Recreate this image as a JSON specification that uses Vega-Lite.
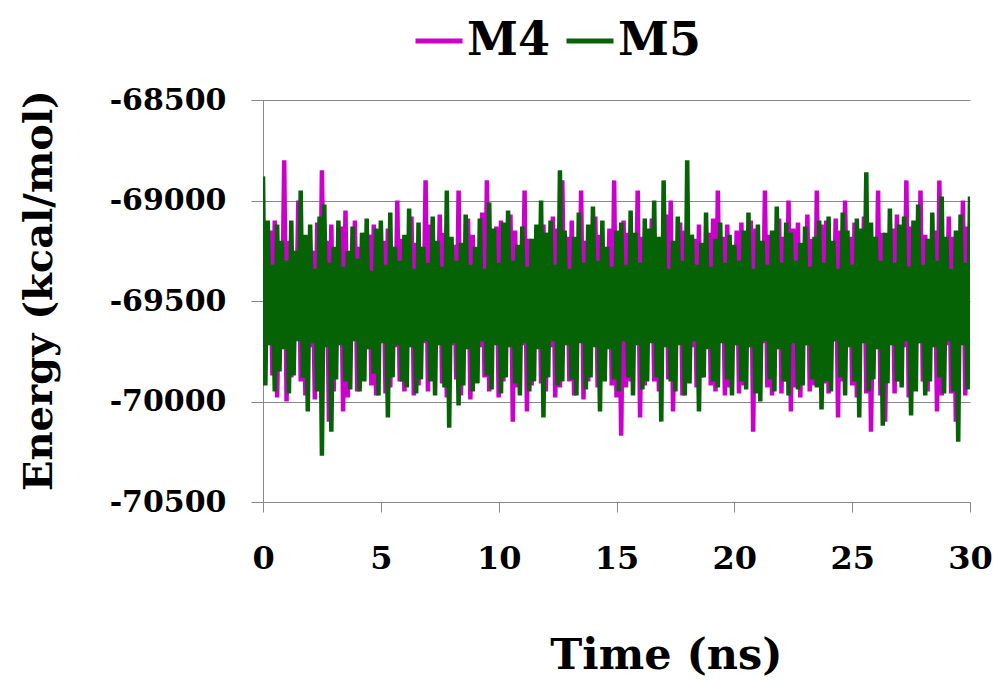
{
"$schema":"https://vega.github.io/schema/vega-lite/v6.json",
"autosize":{"type":"none"},
"width":707,"height":402,
"padding":{"left":263,"top":100,"right":23,"bottom":179},
"background":"white",
"config":{"view":{"stroke":null},"font":"DejaVu Serif"},
"data":{"values":[
{"t":0.0,"M5":-68880,"M4":-69900},{"t":0.1,"M5":-69920,"M4":-69300},{"t":0.2,"M5":-69100,"M4":-69700},{"t":0.3,"M5":-69720,"M4":-69150},{"t":0.4,"M5":-69320,"M4":-69870},{"t":0.5,"M5":-69950,"M4":-69100},{"t":0.6,"M5":-69120,"M4":-69980},{"t":0.7,"M5":-69850,"M4":-69280},{"t":0.8,"M5":-69200,"M4":-69720},{"t":0.9,"M5":-69740,"M4":-68800},
{"t":1.0,"M5":-69300,"M4":-70000},{"t":1.1,"M5":-69960,"M4":-69200},{"t":1.2,"M5":-69100,"M4":-69880},{"t":1.3,"M5":-69870,"M4":-69320},{"t":1.4,"M5":-69250,"M4":-69680},{"t":1.5,"M5":-69700,"M4":-69000},{"t":1.6,"M5":-68950,"M4":-69900},{"t":1.7,"M5":-69880,"M4":-69220},{"t":1.8,"M5":-69170,"M4":-69970},{"t":1.9,"M5":-70050,"M4":-69300},
{"t":2.0,"M5":-69120,"M4":-69730},{"t":2.1,"M5":-69710,"M4":-69250},{"t":2.2,"M5":-69340,"M4":-69990},{"t":2.3,"M5":-69950,"M4":-69110},{"t":2.4,"M5":-69080,"M4":-69900},{"t":2.5,"M5":-70270,"M4":-68850},{"t":2.6,"M5":-69020,"M4":-69700},{"t":2.7,"M5":-69730,"M4":-69200},{"t":2.8,"M5":-69310,"M4":-70100},{"t":2.9,"M5":-70150,"M4":-69120},
{"t":3.0,"M5":-69230,"M4":-69950},{"t":3.1,"M5":-69890,"M4":-69290},{"t":3.2,"M5":-69100,"M4":-69710},{"t":3.3,"M5":-69720,"M4":-69130},{"t":3.4,"M5":-69330,"M4":-70050},{"t":3.5,"M5":-69900,"M4":-69050},{"t":3.6,"M5":-69250,"M4":-69980},{"t":3.7,"M5":-69940,"M4":-69310},{"t":3.8,"M5":-69130,"M4":-69690},{"t":3.9,"M5":-69700,"M4":-69100},
{"t":4.0,"M5":-69290,"M4":-69950},{"t":4.1,"M5":-69950,"M4":-69230},{"t":4.2,"M5":-69160,"M4":-69880},{"t":4.3,"M5":-69900,"M4":-69300},{"t":4.4,"M5":-69090,"M4":-69720},{"t":4.5,"M5":-69740,"M4":-69170},{"t":4.6,"M5":-69350,"M4":-69920},{"t":4.7,"M5":-69860,"M4":-69120},{"t":4.8,"M5":-69140,"M4":-69970},{"t":4.9,"M5":-69970,"M4":-69280},
{"t":5.0,"M5":-69100,"M4":-69700},{"t":5.1,"M5":-69710,"M4":-69200},{"t":5.2,"M5":-69320,"M4":-69960},{"t":5.3,"M5":-70080,"M4":-69140},{"t":5.4,"M5":-69060,"M4":-69930},{"t":5.5,"M5":-69880,"M4":-69310},{"t":5.6,"M5":-69230,"M4":-69730},{"t":5.7,"M5":-69720,"M4":-69000},{"t":5.8,"M5":-69300,"M4":-69900},{"t":5.9,"M5":-69900,"M4":-69190},
{"t":6.0,"M5":-69170,"M4":-69950},{"t":6.1,"M5":-69930,"M4":-69300},{"t":6.2,"M5":-69040,"M4":-69700},{"t":6.3,"M5":-69730,"M4":-69080},{"t":6.4,"M5":-69340,"M4":-69970},{"t":6.5,"M5":-69960,"M4":-69210},{"t":6.6,"M5":-69110,"M4":-69920},{"t":6.7,"M5":-69890,"M4":-69290},{"t":6.8,"M5":-69230,"M4":-69710},{"t":6.9,"M5":-69700,"M4":-68900},
{"t":7.0,"M5":-69310,"M4":-69950},{"t":7.1,"M5":-69900,"M4":-69120},{"t":7.2,"M5":-69080,"M4":-69880},{"t":7.3,"M5":-69970,"M4":-69320},{"t":7.4,"M5":-69200,"M4":-69690},{"t":7.5,"M5":-69720,"M4":-69070},{"t":7.6,"M5":-69330,"M4":-69910},{"t":7.7,"M5":-69930,"M4":-69160},{"t":7.8,"M5":-68950,"M4":-69980},{"t":7.9,"M5":-70130,"M4":-69300},
{"t":8.0,"M5":-69180,"M4":-69720},{"t":8.1,"M5":-69710,"M4":-69220},{"t":8.2,"M5":-69300,"M4":-69890},{"t":8.3,"M5":-70020,"M4":-68950},{"t":8.4,"M5":-69210,"M4":-69970},{"t":8.5,"M5":-69920,"M4":-69310},{"t":8.6,"M5":-69070,"M4":-69700},{"t":8.7,"M5":-69740,"M4":-69090},{"t":8.8,"M5":-69320,"M4":-69990},{"t":8.9,"M5":-69950,"M4":-69170},
{"t":9.0,"M5":-69230,"M4":-69900},{"t":9.1,"M5":-69910,"M4":-69290},{"t":9.2,"M5":-69090,"M4":-69730},{"t":9.3,"M5":-69700,"M4":-69060},{"t":9.4,"M5":-69340,"M4":-69880},{"t":9.5,"M5":-69870,"M4":-68900},{"t":9.6,"M5":-69010,"M4":-69950},{"t":9.7,"M5":-69940,"M4":-69300},{"t":9.8,"M5":-69140,"M4":-69710},{"t":9.9,"M5":-69720,"M4":-69130},
{"t":10.0,"M5":-69310,"M4":-69980},{"t":10.1,"M5":-69960,"M4":-69100},{"t":10.2,"M5":-69110,"M4":-69900},{"t":10.3,"M5":-69880,"M4":-69320},{"t":10.4,"M5":-69050,"M4":-69690},{"t":10.5,"M5":-69730,"M4":-69070},{"t":10.6,"M5":-69300,"M4":-70100},{"t":10.7,"M5":-69910,"M4":-69150},{"t":10.8,"M5":-69220,"M4":-69930},{"t":10.9,"M5":-69970,"M4":-69300},
{"t":11.0,"M5":-69130,"M4":-69720},{"t":11.1,"M5":-69710,"M4":-68950},{"t":11.2,"M5":-69330,"M4":-70050},{"t":11.3,"M5":-69950,"M4":-69190},{"t":11.4,"M5":-69190,"M4":-69920},{"t":11.5,"M5":-69900,"M4":-69310},{"t":11.6,"M5":-69120,"M4":-69700},{"t":11.7,"M5":-69740,"M4":-69160},{"t":11.8,"M5":-69000,"M4":-69910},{"t":11.9,"M5":-70080,"M4":-69120},
{"t":12.0,"M5":-69160,"M4":-69950},{"t":12.1,"M5":-69880,"M4":-69290},{"t":12.2,"M5":-69100,"M4":-69730},{"t":12.3,"M5":-69700,"M4":-69080},{"t":12.4,"M5":-69320,"M4":-69980},{"t":12.5,"M5":-69920,"M4":-69140},{"t":12.6,"M5":-68850,"M4":-69930},{"t":12.7,"M5":-69900,"M4":-68900},{"t":12.8,"M5":-69150,"M4":-69710},{"t":12.9,"M5":-69720,"M4":-69180},
{"t":13.0,"M5":-69340,"M4":-69900},{"t":13.1,"M5":-69890,"M4":-69100},{"t":13.2,"M5":-69180,"M4":-69970},{"t":13.3,"M5":-69970,"M4":-69300},{"t":13.4,"M5":-69060,"M4":-69700},{"t":13.5,"M5":-69710,"M4":-68950},{"t":13.6,"M5":-69310,"M4":-69990},{"t":13.7,"M5":-69940,"M4":-69200},{"t":13.8,"M5":-69120,"M4":-69900},{"t":13.9,"M5":-69880,"M4":-69320},
{"t":14.0,"M5":-69030,"M4":-69690},{"t":14.1,"M5":-69730,"M4":-69080},{"t":14.2,"M5":-69300,"M4":-69930},{"t":14.3,"M5":-70050,"M4":-69170},{"t":14.4,"M5":-69100,"M4":-69880},{"t":14.5,"M5":-69900,"M4":-69310},{"t":14.6,"M5":-69230,"M4":-69720},{"t":14.7,"M5":-69740,"M4":-69140},{"t":14.8,"M5":-69330,"M4":-69920},{"t":14.9,"M5":-69890,"M4":-68900},
{"t":15.0,"M5":-69150,"M4":-69980},{"t":15.1,"M5":-69950,"M4":-69300},{"t":15.2,"M5":-69110,"M4":-70170},{"t":15.3,"M5":-69700,"M4":-69100},{"t":15.4,"M5":-69320,"M4":-69930},{"t":15.5,"M5":-69880,"M4":-69160},{"t":15.6,"M5":-69050,"M4":-69900},{"t":15.7,"M5":-69970,"M4":-69290},{"t":15.8,"M5":-69160,"M4":-69710},{"t":15.9,"M5":-69720,"M4":-68950},
{"t":16.0,"M5":-69310,"M4":-70080},{"t":16.1,"M5":-69940,"M4":-69180},{"t":16.2,"M5":-69090,"M4":-69920},{"t":16.3,"M5":-69900,"M4":-69300},{"t":16.4,"M5":-69140,"M4":-69700},{"t":16.5,"M5":-69710,"M4":-69090},{"t":16.6,"M5":-69000,"M4":-69900},{"t":16.7,"M5":-69880,"M4":-69200},{"t":16.8,"M5":-69180,"M4":-69950},{"t":16.9,"M5":-70100,"M4":-69320},
{"t":17.0,"M5":-68900,"M4":-69720},{"t":17.1,"M5":-69730,"M4":-69070},{"t":17.2,"M5":-69340,"M4":-69890},{"t":17.3,"M5":-69900,"M4":-69000},{"t":17.4,"M5":-69200,"M4":-70050},{"t":17.5,"M5":-69950,"M4":-69310},{"t":17.6,"M5":-69080,"M4":-69690},{"t":17.7,"M5":-69720,"M4":-69110},{"t":17.8,"M5":-69300,"M4":-69970},{"t":17.9,"M5":-69970,"M4":-69150},
{"t":18.0,"M5":-68800,"M4":-69900},{"t":18.1,"M5":-69910,"M4":-69290},{"t":18.2,"M5":-69170,"M4":-69730},{"t":18.3,"M5":-69700,"M4":-69190},{"t":18.4,"M5":-69320,"M4":-69930},{"t":18.5,"M5":-70050,"M4":-69120},{"t":18.6,"M5":-69210,"M4":-69880},{"t":18.7,"M5":-69880,"M4":-69300},{"t":18.8,"M5":-69060,"M4":-69710},{"t":18.9,"M5":-69740,"M4":-69160},
{"t":19.0,"M5":-69330,"M4":-69920},{"t":19.1,"M5":-69900,"M4":-69090},{"t":19.2,"M5":-69190,"M4":-69950},{"t":19.3,"M5":-69930,"M4":-68950},{"t":19.4,"M5":-69110,"M4":-69700},{"t":19.5,"M5":-69710,"M4":-69180},{"t":19.6,"M5":-69310,"M4":-69970},{"t":19.7,"M5":-69890,"M4":-69120},{"t":19.8,"M5":-69170,"M4":-69930},{"t":19.9,"M5":-69970,"M4":-69310},
{"t":20.0,"M5":-69220,"M4":-69720},{"t":20.1,"M5":-69720,"M4":-69150},{"t":20.2,"M5":-69300,"M4":-69960},{"t":20.3,"M5":-69900,"M4":-69110},{"t":20.4,"M5":-69150,"M4":-69920},{"t":20.5,"M5":-69940,"M4":-69290},{"t":20.6,"M5":-69060,"M4":-69690},{"t":20.7,"M5":-69730,"M4":-69100},{"t":20.8,"M5":-69340,"M4":-70150},{"t":20.9,"M5":-69960,"M4":-69140},
{"t":21.0,"M5":-69120,"M4":-69900},{"t":21.1,"M5":-70000,"M4":-69320},{"t":21.2,"M5":-69200,"M4":-69710},{"t":21.3,"M5":-69700,"M4":-68950},{"t":21.4,"M5":-69320,"M4":-69930},{"t":21.5,"M5":-69890,"M4":-69170},{"t":21.6,"M5":-69150,"M4":-69970},{"t":21.7,"M5":-69950,"M4":-69300},{"t":21.8,"M5":-69030,"M4":-69700},{"t":21.9,"M5":-69740,"M4":-69090},
{"t":22.0,"M5":-69310,"M4":-69960},{"t":22.1,"M5":-69900,"M4":-69180},{"t":22.2,"M5":-69110,"M4":-69900},{"t":22.3,"M5":-69970,"M4":-69000},{"t":22.4,"M5":-69160,"M4":-70050},{"t":22.5,"M5":-69710,"M4":-69140},{"t":22.6,"M5":-69300,"M4":-69930},{"t":22.7,"M5":-69940,"M4":-69110},{"t":22.8,"M5":-69210,"M4":-69980},{"t":22.9,"M5":-69920,"M4":-69310},
{"t":23.0,"M5":-69130,"M4":-69720},{"t":23.1,"M5":-69720,"M4":-69070},{"t":23.2,"M5":-69330,"M4":-69950},{"t":23.3,"M5":-69890,"M4":-69190},{"t":23.4,"M5":-69180,"M4":-69920},{"t":23.5,"M5":-69930,"M4":-68950},{"t":23.6,"M5":-69100,"M4":-69730},{"t":23.7,"M5":-70040,"M4":-69120},{"t":23.8,"M5":-69310,"M4":-69910},{"t":23.9,"M5":-69900,"M4":-69100},
{"t":24.0,"M5":-69080,"M4":-69960},{"t":24.1,"M5":-69950,"M4":-69290},{"t":24.2,"M5":-69200,"M4":-69700},{"t":24.3,"M5":-69700,"M4":-69090},{"t":24.4,"M5":-69340,"M4":-70080},{"t":24.5,"M5":-69880,"M4":-69150},{"t":24.6,"M5":-69060,"M4":-69900},{"t":24.7,"M5":-69970,"M4":-69000},{"t":24.8,"M5":-69150,"M4":-69710},{"t":24.9,"M5":-69730,"M4":-69180},
{"t":25.0,"M5":-69320,"M4":-69920},{"t":25.1,"M5":-69900,"M4":-69110},{"t":25.2,"M5":-69090,"M4":-69980},{"t":25.3,"M5":-70080,"M4":-69300},{"t":25.4,"M5":-69140,"M4":-69690},{"t":25.5,"M5":-69710,"M4":-69080},{"t":25.6,"M5":-68860,"M4":-69960},{"t":25.7,"M5":-69950,"M4":-69200},{"t":25.8,"M5":-69110,"M4":-70150},{"t":25.9,"M5":-69890,"M4":-69320},
{"t":26.0,"M5":-69180,"M4":-69720},{"t":26.1,"M5":-69740,"M4":-68950},{"t":26.2,"M5":-69300,"M4":-69970},{"t":26.3,"M5":-70120,"M4":-69160},{"t":26.4,"M5":-69160,"M4":-70100},{"t":26.5,"M5":-69910,"M4":-69300},{"t":26.6,"M5":-69040,"M4":-69700},{"t":26.7,"M5":-69720,"M4":-69140},{"t":26.8,"M5":-69310,"M4":-69960},{"t":26.9,"M5":-69900,"M4":-69070},
{"t":27.0,"M5":-69120,"M4":-69900},{"t":27.1,"M5":-69930,"M4":-69310},{"t":27.2,"M5":-69080,"M4":-69730},{"t":27.3,"M5":-69700,"M4":-68900},{"t":27.4,"M5":-69330,"M4":-69980},{"t":27.5,"M5":-70070,"M4":-69130},{"t":27.6,"M5":-69100,"M4":-69920},{"t":27.7,"M5":-69950,"M4":-69290},{"t":27.8,"M5":-69020,"M4":-69710},{"t":27.9,"M5":-69710,"M4":-68950},
{"t":28.0,"M5":-69320,"M4":-69900},{"t":28.1,"M5":-69970,"M4":-69170},{"t":28.2,"M5":-69190,"M4":-69950},{"t":28.3,"M5":-69900,"M4":-69300},{"t":28.4,"M5":-69060,"M4":-69700},{"t":28.5,"M5":-69730,"M4":-69150},{"t":28.6,"M5":-69300,"M4":-70050},{"t":28.7,"M5":-69880,"M4":-68900},{"t":28.8,"M5":-68980,"M4":-69970},{"t":28.9,"M5":-69960,"M4":-69320},
{"t":29.0,"M5":-69180,"M4":-69720},{"t":29.1,"M5":-69700,"M4":-69080},{"t":29.2,"M5":-69340,"M4":-69960},{"t":29.3,"M5":-69950,"M4":-69180},{"t":29.4,"M5":-69150,"M4":-70100},{"t":29.5,"M5":-70200,"M4":-69300},{"t":29.6,"M5":-69070,"M4":-69690},{"t":29.7,"M5":-69720,"M4":-69000},{"t":29.8,"M5":-69310,"M4":-69970},{"t":29.9,"M5":-69940,"M4":-69130},
{"t":30.0,"M5":-68980,"M4":-69900}
]},
"transform":[{"fold":["M4","M5"],"as":["series","energy"]}],
"mark":{"type":"line","strokeWidth":4.5,"clip":true},
"encoding":{
"x":{"field":"t","type":"quantitative","scale":{"domain":[0,30],"nice":false},
"axis":{"values":[0,5,10,15,20,25,30],"grid":false,"domainColor":"#888888","tickColor":"#888888","tickSize":10,"labelFont":"DejaVu Serif","labelFontWeight":"bold","labelFontSize":32,"labelColor":"black","labelPadding":31,"labelFlush":false,"title":"Time (ns)","titleFont":"DejaVu Serif","titleFontWeight":"bold","titleFontSize":43,"titleColor":"black","titlePadding":60,"titleX":403,"titleAlign":"center"}},
"y":{"field":"energy","type":"quantitative","scale":{"domain":[-70500,-68500],"nice":false,"zero":false},
"axis":{"values":[-70500,-70000,-69500,-69000,-68500],"labelExpr":"'-' + format(-datum.value, 'd')","grid":true,"gridColor":"#888888","domainColor":"#888888","tickColor":"#888888","tickSize":12,"labelFont":"DejaVu Serif","labelFontWeight":"bold","labelFontSize":30,"labelColor":"black","labelPadding":25,"title":"Energy (kcal/mol)","titleFont":"DejaVu Serif","titleFontWeight":"bold","titleFontSize":40,"titleColor":"black","titlePadding":50,"titleY":190,"titleAlign":"center"}},
"color":{"field":"series","type":"nominal","scale":{"domain":["M4","M5"],"range":["#CC00CC","#056305"]},
"legend":{"title":null,"orient":"none","direction":"horizontal","legendX":150,"legendY":-85,"symbolType":"stroke","symbolSize":2209,"symbolStrokeWidth":5,"labelFont":"DejaVu Serif","labelFontWeight":"bold","labelFontSize":46,"labelColor":"black","labelOffset":2,"columnPadding":6,"labelLimit":300}}
}
}
